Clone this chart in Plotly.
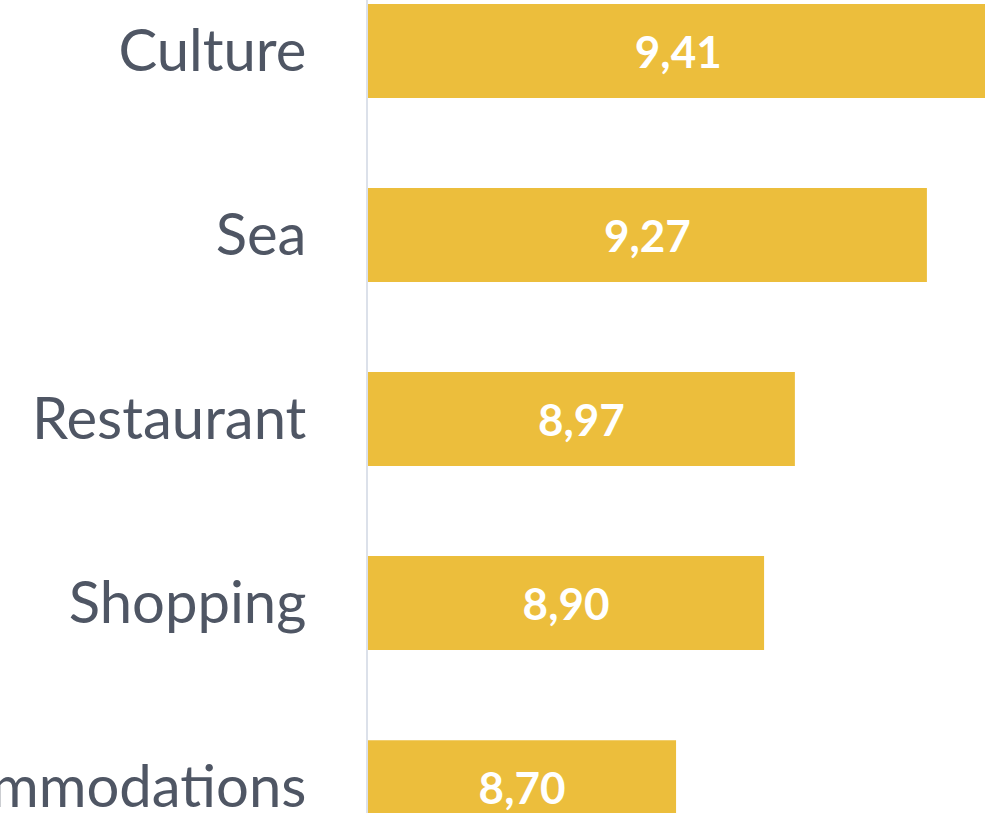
import plotly.graph_objects as go

# Average satisfaction score per aspect of the stay
categories = ["Culture", "Sea", "Restaurant", "Shopping", "Accommodations"]
scores = [9.41, 9.27, 8.97, 8.90, 8.70]
score_labels = [f"{v:.2f}".replace(".", ",") for v in scores]

# Scores are plotted from a common baseline of 8
AXIS_MIN = 8.0
AXIS_MAX = 9.402

BAR_COLOR = "#ECBE3C"
LABEL_COLOR = "#4F5664"
FONT = "Lato"

fig = go.Figure(
    go.Bar(
        x=[v - AXIS_MIN for v in scores],
        base=AXIS_MIN,
        y=categories,
        orientation="h",
        marker=dict(color=BAR_COLOR, line=dict(width=0)),
        text=score_labels,
        texttemplate="<b>%{text}</b>",
        textposition="inside",
        insidetextanchor="middle",
        constraintext="none",
        textfont=dict(family=FONT, size=44, color="white"),
    )
)

n = len(categories)
fig.update_layout(
    width=985,
    height=813,
    margin=dict(l=368, r=0, t=0, b=0, autoexpand=False),
    paper_bgcolor="white",
    plot_bgcolor="white",
    bargap=0.49,
    showlegend=False,
)
fig.update_xaxes(
    range=[AXIS_MIN, AXIS_MAX],
    showgrid=False,
    zeroline=False,
    showticklabels=False,
    showline=False,
    automargin=False,
)
fig.update_yaxes(
    categoryorder="array",
    categoryarray=categories,
    range=[n - 1 + 0.141, -0.277],
    showgrid=False,
    zeroline=False,
    showline=True,
    linecolor="#DCE1EA",
    linewidth=2,
    ticks="",
    ticklabelstandoff=48,
    automargin=False,
    tickfont=dict(family=FONT, size=58, color=LABEL_COLOR),
)

fig.write_html("out.html")
